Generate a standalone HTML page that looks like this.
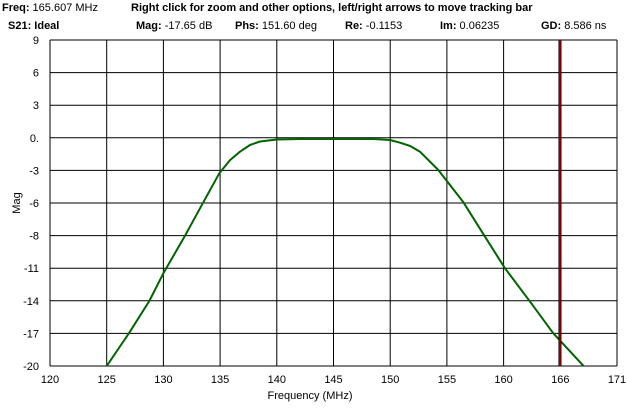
<!DOCTYPE html>
<html><head><meta charset="utf-8"><style>
body{margin:0;background:#fff;width:627px;height:410px;overflow:hidden;font-family:"Liberation Sans",Arial,sans-serif}
svg text{font-family:"Liberation Sans",Arial,sans-serif;font-size:11px;fill:#000}
</style></head><body>
<svg id="chart" width="627" height="410">
<g>
<text x="2" y="11"><tspan font-weight="bold">Freq:</tspan> 165.607 MHz</text>
<text x="131" y="11" font-weight="bold">Right click for zoom and other options, left/right arrows to move tracking bar</text>
<text x="8" y="29" font-weight="bold">S21: Ideal</text>
<text x="136" y="29"><tspan font-weight="bold">Mag:</tspan> -17.65 dB</text>
<text x="235" y="29"><tspan font-weight="bold">Phs:</tspan> 151.60 deg</text>
<text x="345" y="29"><tspan font-weight="bold">Re:</tspan> -0.1153</text>
<text x="440" y="29"><tspan font-weight="bold">Im:</tspan> 0.06235</text>
<text x="541" y="29"><tspan font-weight="bold">GD:</tspan> 8.586 ns</text>
</g>
<g id="grid"></g><g id="ticks"></g><g id="series"></g><g id="marker"></g>
<text x="310" y="399" text-anchor="middle" font-size="12">Frequency (MHz)</text>
<text transform="translate(20,203) rotate(-90)" text-anchor="middle" font-size="12">Mag</text>
</svg>
<script>
const xTickLabels=["120","125","130","135","140","145","150","155","160","166","171"];
const yTickLabels=["9","6","3","0.","-3","-6","-8","-11","-14","-17","-20"];
const freqs=[125.1,127.13,128.93,130.19,132.14,133.79,135.23,136.19,137.09,137.99,138.89,140.42,142.49,149.06,150.58,151.48,152.4,153.28,154.93,157.18,159.13,160.93,163.18,165.27,167.97];
const mags=[-20,-17.04,-14.22,-11.76,-8.41,-5.44,-2.86,-1.68,-0.94,-0.34,-0.03,0.15,0.19,0.19,0.1,-0.14,-0.43,-0.94,-2.56,-5.44,-8.5,-11.31,-14.28,-17.09,-19.97];
const trackFreq=[165.87];
const X0=50,X1=617,Y0=40,Y1=366,XMIN=120,XMAX=171,YMAX=9,YMIN=-20;
const xs=f=>X0+(f-XMIN)/(XMAX-XMIN)*(X1-X0);
const ys=v=>Y0+(YMAX-v)/(YMAX-YMIN)*(Y1-Y0);
const NS="http://www.w3.org/2000/svg";
function mk(t,a,p){const e=document.createElementNS(NS,t);for(const k in a)e.setAttribute(k,a[k]);p.appendChild(e);return e;}
const grid=document.getElementById('grid'),ticks=document.getElementById('ticks');
xTickLabels.forEach((l,i)=>{const x=X0+i*(X1-X0)/(xTickLabels.length-1);
const ln=mk('line',{x1:x,x2:x,y1:Y0,y2:Y1,stroke:'#000','stroke-width':1},grid);


const t=mk('text',{x:x,y:Y1+17,'text-anchor':'middle'},ticks);t.textContent=l;

});
yTickLabels.forEach((l,i)=>{const y=Y0+i*(Y1-Y0)/(yTickLabels.length-1);
const ln=mk('line',{x1:X0,x2:X1,y1:y,y2:y,stroke:'#000','stroke-width':1},grid);


const t=mk('text',{x:X0-11,y:y+4,'text-anchor':'end'},ticks);t.textContent=l;

});
const clip=mk('clipPath',{id:'pc'},document.getElementById('chart'));mk('rect',{x:X0,y:Y0,width:X1-X0,height:Y1-Y0},clip);
let d='';freqs.forEach((f,i)=>{d+=(i?'L':'M')+xs(f).toFixed(1)+','+ys(mags[i]).toFixed(1);});
const p=mk('path',{d:d,fill:'none',stroke:'#006400','stroke-width':2,'stroke-linejoin':'round','clip-path':'url(#pc)'},document.getElementById('series'));


const mx=xs(trackFreq[0]);
const m=mk('rect',{x:mx-1.5,y:Y0,width:3,height:Y1-Y0,fill:'#000'},document.getElementById('marker'));


const mr=mk('line',{x1:mx,x2:mx,y1:Y0,y2:Y1,stroke:'#e00000','stroke-width':1.2},document.getElementById('marker'));


</script>
</body></html>
